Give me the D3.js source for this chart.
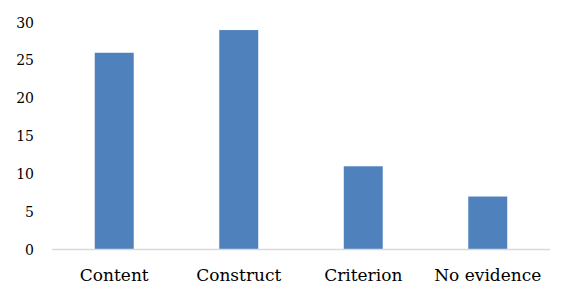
<!DOCTYPE html>
<html lang="en">
<head>
    <meta charset="UTF-8">
    <script src="https://cdn.jsdelivr.net/npm/d3@7"></script>
    <title>Evidence chart</title>
    <style>
        body { margin: 0; background: white; }
        .tick-label { font-family: "DejaVu Serif", serif; font-size: 14px; fill: #000; }
        .cat-label { font-family: "DejaVu Serif", serif; font-size: 17px; fill: #000; }
    </style>
</head>
<body>
    <div id="chart"></div>
    <script>
        const categories = ["Content", "Construct", "Criterion", "No evidence"];
        const counts = [26, 29, 11, 7];
        const yTicks = [0, 5, 10, 15, 20, 25, 30];

        const width = 573, height = 298;
        const margin = { left: 52, right: 23, top: 22.5, bottom: 48.5 };

        const svg = d3.select("#chart").append("svg")
            .attr("width", width)
            .attr("height", height);

        const x = d3.scaleBand()
            .domain(categories)
            .range([margin.left, width - margin.right])
            .paddingInner(0.687)
            .paddingOuter(0.3435);

        const y = d3.scaleLinear()
            .domain([0, 30])
            .range([height - margin.bottom, margin.top]);

        // bars
        svg.selectAll("rect.bar")
            .data(categories)
            .enter()
            .append("rect")
            .attr("class", "bar")
            .attr("x", d => x(d))
            .attr("width", x.bandwidth())
            .attr("y", (d, i) => y(counts[i]))
            .attr("height", (d, i) => y(0) - y(counts[i]))
            .attr("fill", "#4f81bd");

        // baseline
        svg.append("line")
            .attr("x1", margin.left)
            .attr("x2", width - margin.right)
            .attr("y1", y(0))
            .attr("y2", y(0))
            .attr("stroke", "#d9d9d9")
            .attr("stroke-width", 1.5);

        // y tick labels
        svg.selectAll("text.tick-label")
            .data(yTicks)
            .enter()
            .append("text")
            .attr("class", "tick-label")
            .attr("x", margin.left - 18)
            .attr("y", d => y(d))
            .attr("dy", "0.36em")
            .attr("text-anchor", "end")
            .text(d => d);

        // category labels
        svg.selectAll("text.cat-label")
            .data(categories)
            .enter()
            .append("text")
            .attr("class", "cat-label")
            .attr("x", d => x(d) + x.bandwidth() / 2)
            .attr("y", y(0) + 31)
            .attr("text-anchor", "middle")
            .text(d => d);
    </script>
</body>
</html>
